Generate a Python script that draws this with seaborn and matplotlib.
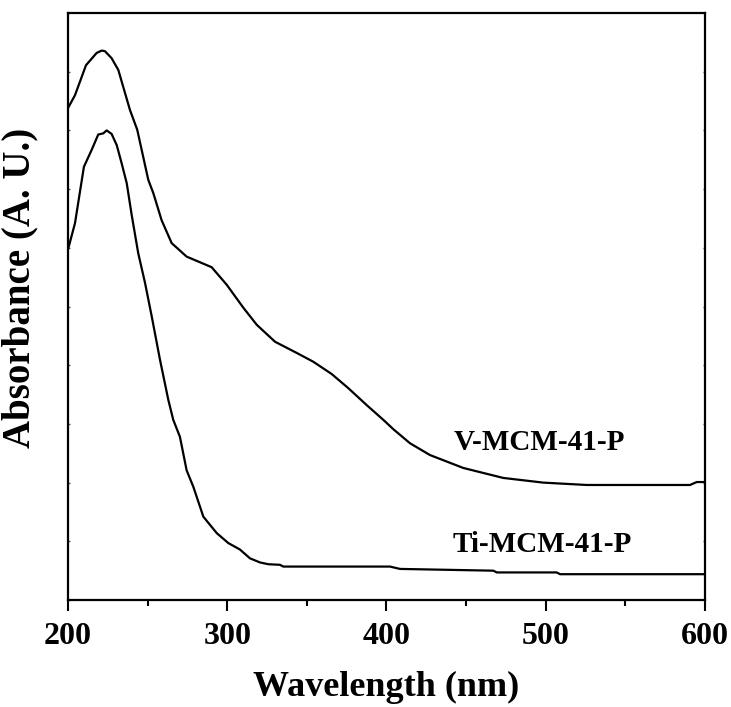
import numpy as np
import pandas as pd
import seaborn as sns
import matplotlib
matplotlib.use("Agg")
import matplotlib.pyplot as plt
from matplotlib.ticker import MultipleLocator

# UV-Vis diffuse reflectance spectra (arbitrary absorbance units)
v_wavelength = [200.0, 204.4, 211.3, 218.0, 221.2, 223.2, 227.4, 231.6, 238.9, 243.5,
                250.4, 253.6, 258.8, 265.1, 274.5, 290.2, 299.7, 310.1, 318.5, 330.0,
                343.6, 354.0, 365.6, 376.0, 387.6, 398.0, 404.3, 414.8, 427.3, 448.2,
                473.3, 498.5, 525.7, 565.5, 590.6, 594.8, 600.0]
v_absorbance = [8.38, 8.60, 9.11, 9.32, 9.36, 9.35, 9.23, 9.03, 8.35, 8.01,
                7.16, 6.93, 6.47, 6.08, 5.85, 5.67, 5.37, 4.98, 4.69, 4.40,
                4.21, 4.06, 3.85, 3.61, 3.32, 3.07, 2.91, 2.67, 2.47, 2.25,
                2.08, 2.00, 1.96, 1.96, 1.96, 2.01, 2.01]

ti_wavelength = [200.2, 204.4, 210.0, 214.9, 219.0, 222.2, 224.3, 227.4, 230.6, 233.7,
                 236.9, 240.0, 244.1, 248.4, 252.6, 257.8, 263.0, 266.1, 270.3, 274.5,
                 278.7, 285.0, 289.2, 293.4, 300.7, 308.0, 314.3, 320.6, 325.8, 333.1,
                 335.2, 402.2, 408.5, 467.1, 469.3, 506.9, 509.0, 600.0]
ti_absorbance = [5.99, 6.42, 7.38, 7.67, 7.93, 7.95, 8.00, 7.94, 7.75, 7.44,
                 7.10, 6.56, 5.91, 5.40, 4.83, 4.09, 3.41, 3.07, 2.78, 2.21,
                 1.93, 1.42, 1.28, 1.14, 0.97, 0.86, 0.71, 0.64, 0.61, 0.60,
                 0.57, 0.57, 0.53, 0.50, 0.47, 0.47, 0.44, 0.44]

sample_names = ["V-MCM-41-P", "Ti-MCM-41-P"]
label_positions = [(442.4, 2.68), (441.3, 0.94)]

x_ticks = [200, 300, 400, 500, 600]

df = pd.concat([
    pd.DataFrame({"wavelength": v_wavelength, "absorbance": v_absorbance, "sample": sample_names[0]}),
    pd.DataFrame({"wavelength": ti_wavelength, "absorbance": ti_absorbance, "sample": sample_names[1]}),
])

sns.set_theme(style="ticks")
plt.rcParams["font.family"] = ["Liberation Serif", "DejaVu Serif"]
plt.rcParams["font.weight"] = "bold"
plt.rcParams["text.color"] = "black"
plt.rcParams["axes.labelcolor"] = "black"
plt.rcParams["xtick.color"] = "black"
plt.rcParams["ytick.color"] = "black"

fig = plt.figure(figsize=(7.31, 7.07), dpi=100)
ax = fig.add_axes([0.093, 0.1513, 0.8714, 0.8303])

sns.lineplot(data=df, x="wavelength", y="absorbance", units="sample", estimator=None,
             sort=False, color="black", linewidth=1.6, ax=ax, legend=False)

for name, (tx, ty) in zip(sample_names, label_positions):
    ax.text(tx, ty, name, fontsize=21, fontweight="bold", va="center", ha="left",
            color="black")

ax.set_xlim(200, 600)
ax.set_ylim(0, 10)
ax.set_xticks(x_ticks)
ax.set_xticklabels([str(t) for t in x_ticks])
ax.xaxis.set_minor_locator(MultipleLocator(50))
ax.yaxis.set_major_locator(MultipleLocator(1))
ax.set_yticklabels([])

ax.tick_params(axis="x", which="major", direction="out", length=8, width=1.5,
               labelsize=23, pad=8, colors="black")
ax.tick_params(axis="x", which="minor", direction="out", length=4, width=1.5,
               colors="black")
ax.tick_params(axis="y", which="major", direction="in", length=1.5, width=1.0,
               left=True, right=True, color="#555555")
ax.tick_params(axis="x", top=False)

for side in ["left", "right", "top", "bottom"]:
    ax.spines[side].set_visible(True)
    ax.spines[side].set_linewidth(1.6)
    ax.spines[side].set_color("black")

for lbl in ax.get_xticklabels():
    lbl.set_fontweight("bold")

ax.set_xlabel("Wavelength (nm)", fontsize=26, fontweight="bold", color="black")
ax.set_ylabel("Absorbance (A. U.)", fontsize=28, fontweight="bold", color="black")
ax.xaxis.set_label_coords(0.5, -0.12)
ax.yaxis.set_label_coords(-0.047, 0.531)

fig.savefig("out.png", dpi=100)
